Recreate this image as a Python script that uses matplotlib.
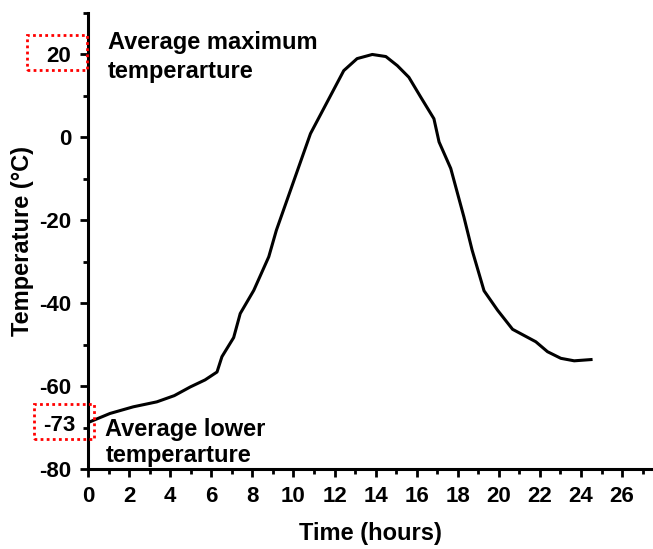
import matplotlib.pyplot as plt
from matplotlib.patches import Rectangle
from matplotlib.ticker import MultipleLocator

plt.rcParams['font.family'] = ['Liberation Sans', 'DejaVu Sans']
plt.rcParams['font.weight'] = 'bold'
plt.rcParams['axes.unicode_minus'] = False

# data
hours = [0, 1.07, 2.2, 3.35, 4.2, 4.98, 5.7, 6.28, 6.52, 7.09, 7.41, 8.07, 8.8,
         9.17, 10.83, 12.45, 13.1, 13.84, 14.5, 15.06, 15.62, 16.2, 16.84, 17.09,
         17.66, 18.3, 18.7, 19.28, 19.94, 20.67, 21.8, 22.37, 23.02, 23.67, 24.49]
temps = [-68.8, -66.6, -65.0, -63.8, -62.3, -60.2, -58.5, -56.6, -52.9, -48.3,
         -42.5, -36.9, -28.8, -22.4, 0.9, 16.1, 19.0, 20.0, 19.5, 17.3, 14.5, 9.7,
         4.5, -1.1, -7.5, -19.2, -27.2, -37.0, -41.7, -46.3, -49.3, -51.7, -53.3,
         -53.9, -53.6]

y_ticks = [-80, -60, -40, -20, 0, 20]
x_ticks = list(range(0, 27, 2))

fig = plt.figure(figsize=(6.53, 5.49), dpi=100)
ax = fig.add_axes([0.1348, 0.1457, 0.865, 0.8306])

ax.plot(hours, temps, color='black', lw=2.2)

ax.set_xlim(0, 27.5)
ax.set_ylim(-80, 30)
ax.set_xticks(x_ticks)
ax.set_yticks(y_ticks)
ax.xaxis.set_minor_locator(MultipleLocator(1))
ax.yaxis.set_minor_locator(MultipleLocator(10))

for s in ['top', 'right']:
    ax.spines[s].set_visible(False)
for s in ['left', 'bottom']:
    ax.spines[s].set_linewidth(2.2)

ax.tick_params(which='major', length=6, width=2, labelsize=16, pad=6)
ax.tick_params(which='minor', length=3.5, width=2)

ax.set_xlabel('Time (hours)', fontsize=17, fontweight='bold', labelpad=11)
ax.set_ylabel('Temperature (°C)', fontsize=17, fontweight='bold', labelpad=4)

# extra label for the lowest average
ax.text(-0.6, -69.5, '-73', ha='right', va='center', fontsize=16,
        fontweight='bold', clip_on=False)

ax.text(0.98, 25.6, 'Average maximum\ntemperarture', fontsize=17,
        fontweight='bold', va='top', ha='left', linespacing=1.3)
ax.text(0.85, -67.6, 'Average lower\ntemperarture', fontsize=17,
        fontweight='bold', va='top', ha='left', linespacing=1.2)

# red dotted boxes round the two labels
for x0, y0 in [(27, 35), (34, 404)]:
    w, h = 60, 35
    fig.patches.append(Rectangle((x0 / 653, (549 - y0 - h) / 549), w / 653, h / 549,
                                 transform=fig.transFigure, fill=False,
                                 edgecolor='red', lw=2, linestyle=(0, (1, 1.2))))

fig.savefig('out.png', dpi=100)
